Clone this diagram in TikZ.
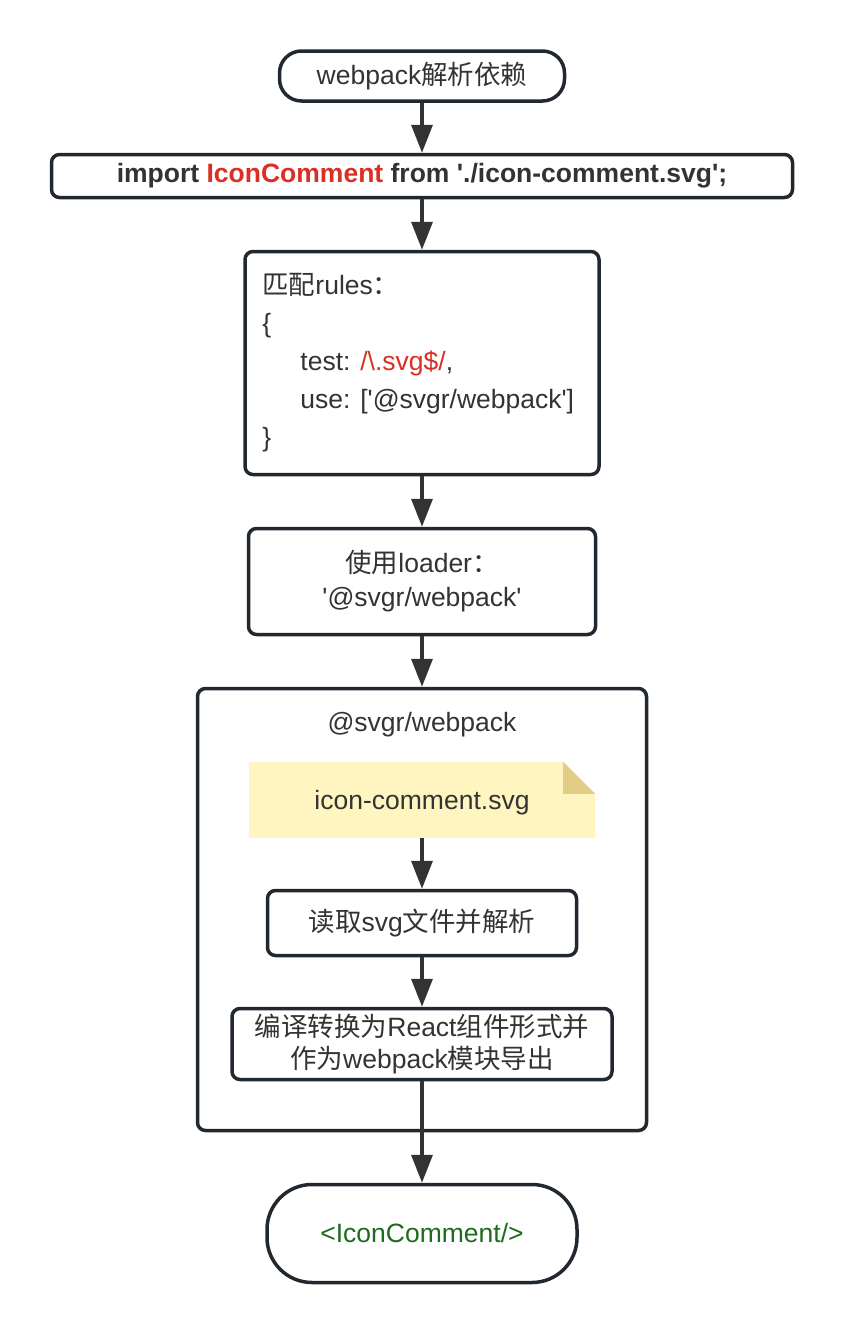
\documentclass[tikz,border=0pt]{standalone}
\usepackage{fontspec}
\setmainfont{Liberation Sans}
\newfontfamily\cjk{Noto Sans CJK SC}
\usetikzlibrary{arrows.meta}

\definecolor{edge}{HTML}{22282F}
\definecolor{ink}{HTML}{333333}
\definecolor{codered}{HTML}{D93025}
\definecolor{codegreen}{HTML}{1E6B1E}
\definecolor{notefill}{HTML}{FFF5C0}
\definecolor{notefold}{HTML}{E2CC86}
\newcommand{\sq}{\textquotesingle}

\tikzset{
 box/.style={draw=edge, line width=3.5pt, rounded corners=8pt, fill=white, text=ink,
   align=center, inner sep=0pt, font=\fontsize{26.5}{34}\selectfont},
 pill/.style={box, rounded corners=#1},
 flow/.style={draw=ink, line width=3.5pt, -{Triangle[length=28pt,width=21pt]}},
}

\begin{document}
\begin{tikzpicture}[x=1pt, y=-1pt]
\useasboundingbox[fill=white] (0,0) rectangle (844,1334);

% outer loader box
\node[box, minimum width=449pt, minimum height=442pt] (svgr) at (422,909.5) {};
\node[text=ink, font=\fontsize{26.5}{34}\selectfont] (svgrtitle) at (422,725) {@svgr/webpack};

% the svg file note
\node[minimum width=346pt, minimum height=76pt, inner sep=0pt] (note) at (422,800) {};
\fill[notefill] (note.north west) -- ([xshift=-32pt]note.north east) -- ([yshift=-32pt]note.north east)
  -- (note.south east) -- (note.south west) -- cycle;
\fill[notefold] ([xshift=-32pt]note.north east) -- ([xshift=-32pt,yshift=-32pt]note.north east)
  -- ([yshift=-32pt]note.north east) -- cycle;
\node[text=ink, font=\fontsize{26.5}{34}\selectfont] (notetext) at (422,803) {icon-comment.svg};

\node[pill=22pt, minimum width=285pt, minimum height=50pt] (start) at (422,76) {webpack{\cjk 解析依赖}};
\node[box, minimum width=741pt, minimum height=43pt, font=\fontsize{26.5}{34}\selectfont\bfseries] (import) at (422,176)
  {import \textcolor{codered}{IconComment} from \sq./icon-comment.svg\sq;};
\node[box, minimum width=354pt, minimum height=223pt] (rules) at (422,363) {};
\node[anchor=west, align=left, inner sep=0pt, text=ink, font=\fontsize{26.5}{38}\selectfont] (rulestext)
  at ([xshift=19pt]rules.west)
  {{\cjk 匹配}rules{\cjk ：}\\
   \{\\
   \hspace*{38pt}test: \textcolor{codered}{/\textbackslash.svg\$/},\\
   \hspace*{38pt}use: [\sq @svgr/webpack\sq]\\
   \}};
\node[box, minimum width=347pt, minimum height=106pt] (loader) at (422,581.5)
  {{\cjk 使用}loader{\cjk ：}\\\sq @svgr/webpack\sq};
\node[box, minimum width=309pt, minimum height=65pt] (read) at (422,923) {{\cjk 读取}svg{\cjk 文件并解析}};
\node[box, minimum width=380pt, minimum height=71pt, font=\fontsize{26.5}{32}\selectfont] (compile) at (422,1044)
  {{\cjk 编译转换为}React{\cjk 组件形式并}\\{\cjk 作为}webpack{\cjk 模块导出}};
\node[pill=45pt, minimum width=310pt, minimum height=98pt, text=codegreen] (final) at (422,1233.5) {<IconComment/>};

\draw[flow] (start) -- (import);
\draw[flow] (import) -- (rules);
\draw[flow] (rules) -- (loader);
\draw[flow] (loader) -- (svgr);
\draw[flow] (note) -- (read);
\draw[flow] (read) -- (compile);
\draw[flow] (compile) -- (final);
\end{tikzpicture}
\end{document}
